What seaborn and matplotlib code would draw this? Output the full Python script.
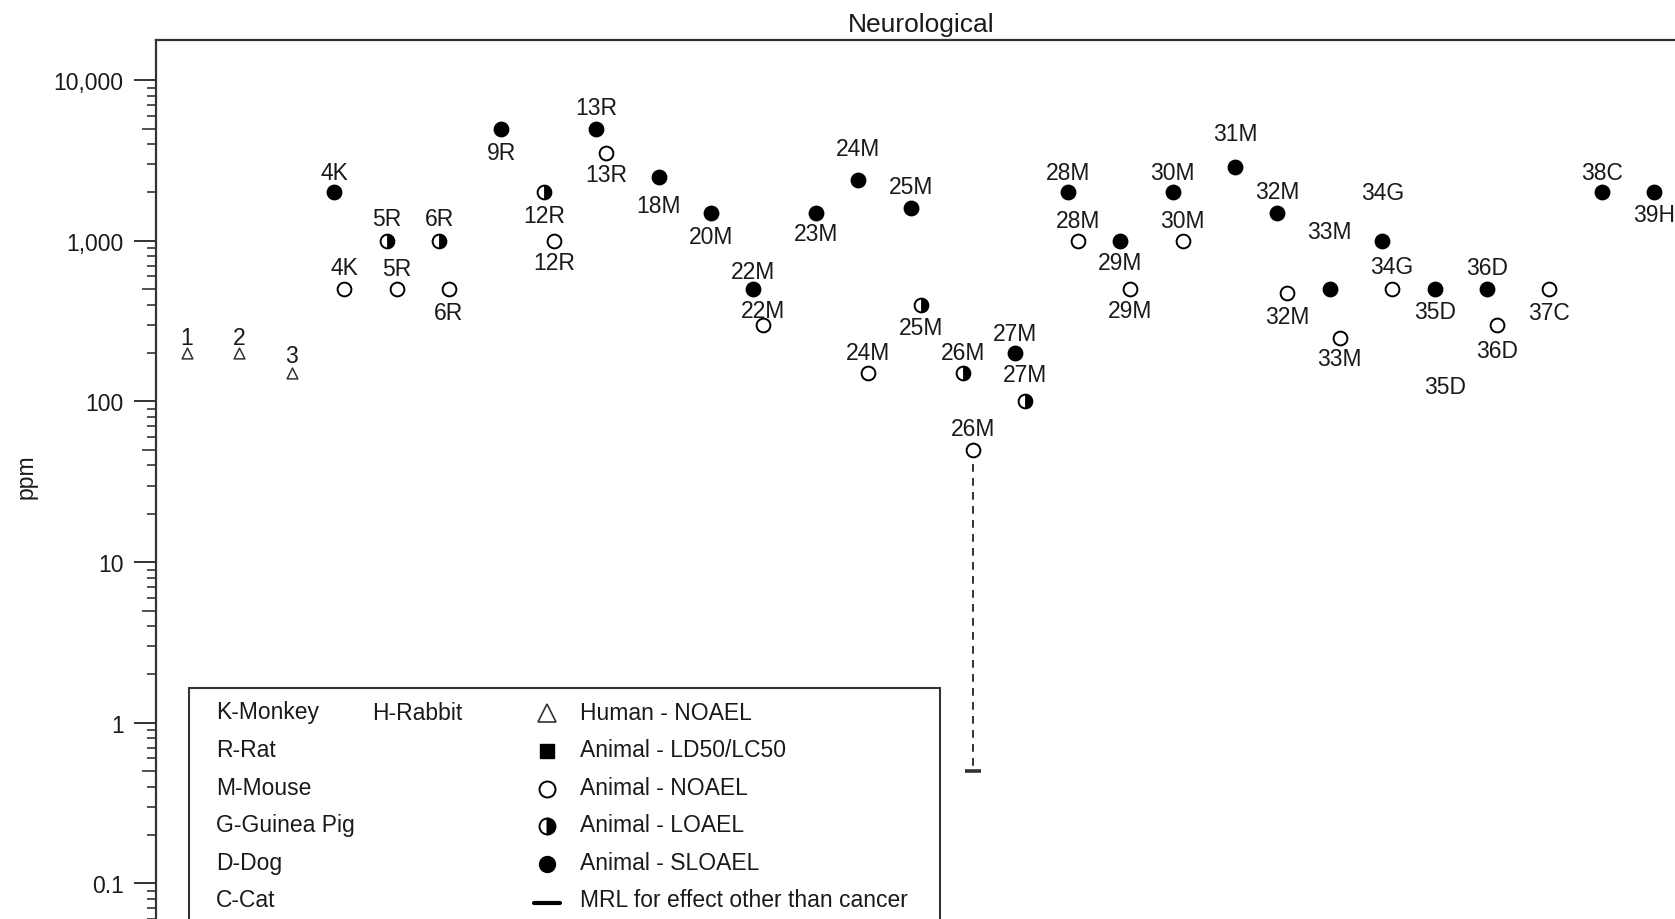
import numpy as np
import pandas as pd
import matplotlib
matplotlib.use("Agg")
import matplotlib.pyplot as plt
import matplotlib.ticker as mticker
from matplotlib.markers import MarkerStyle
from matplotlib.patches import Rectangle
from matplotlib.lines import Line2D
import seaborn as sns

# ---------------- data ----------------
studies = ['1', '2', '3', '4K', '5R', '6R', '9R', '12R', '13R', '18M', '20M', '22M',
           '23M', '24M', '25M', '26M', '27M', '28M', '29M', '30M', '31M', '32M',
           '33M', '34G', '35D', '36D', '37C', '38C', '39H']

pt_study = ['1', '2', '3', '4K', '4K', '5R', '5R', '6R', '6R', '9R', '12R', '12R',
            '13R', '13R', '18M', '20M', '22M', '22M', '23M', '24M', '24M', '25M', '25M',
            '26M', '26M', '27M', '27M', '28M', '28M', '29M', '29M', '30M', '30M', '31M',
            '32M', '32M', '33M', '33M', '34G', '34G', '35D', '35D', '36D', '36D', '37C',
            '38C', '39H']

H_N, A_N, A_L, A_S = 'Human - NOAEL', 'Animal - NOAEL', 'Animal - LOAEL', 'Animal - SLOAEL'
pt_type = [H_N, H_N, H_N, A_S, A_N, A_L, A_N, A_L, A_N, A_S, A_L, A_N,
           A_S, A_N, A_S, A_S, A_S, A_N, A_S, A_S, A_N, A_S, A_L,
           A_L, A_N, A_S, A_L, A_S, A_N, A_S, A_N, A_S, A_N, A_S,
           A_S, A_N, A_S, A_N, A_S, A_N, A_S, A_N, A_S, A_N, A_N,
           A_S, A_S]

pt_value = [200, 200, 150, 2000, 500, 1000, 500, 1000, 500, 5000, 2000, 1000,
            5000, 3500, 2500, 1500, 500, 300, 1500, 2400, 150, 1600, 400,
            150, 50, 200, 100, 2000, 1000, 1000, 500, 2000, 1000, 2900,
            1500, 475, 500, 250, 1000, 500, 500, 170, 500, 300, 500,
            2000, 2000]

# marker drawn for the point (35D NOAEL appears only as a label in the source)
pt_drawn = [True] * 41 + [False] + [True] * 5

# label placement (screen px, + = below marker, - = above)
label_dy = [-15, -15, -17, -19, -20, -21, -19, -21, 22, 22, 22, 20,
            -20, 20, 27, 22, -17, -13, 20, -29, -19, -20, 21,
            -19, -20, -18, -25, -19, -19, 20, 20, -19, -19, -31,
            -20, 22, -54, 20, -45, -21, 21, 21, -20, 24, 22,
            -19, 21]

mrl_study = '26M'
mrl_top = 50
mrl_value = 0.5

species_col1 = ['K-Monkey', 'R-Rat', 'M-Mouse', 'G-Guinea Pig', 'D-Dog', 'C-Cat']
species_col2 = ['H-Rabbit']
key_labels = ['Human - NOAEL', 'Animal - LD50/LC50', 'Animal - NOAEL', 'Animal - LOAEL',
              'Animal - SLOAEL', 'MRL for effect other than cancer']

# ---------------- positions ----------------
grp = {s: i for i, s in enumerate(studies)}
counts = pd.Series(pt_study).value_counts()
xs, seen = [], {}
for s in pt_study:
    k = seen.get(s, 0)
    off = -0.19 if (counts[s] == 2 and k == 0) else 0.0
    xs.append(grp[s] + off)
    seen[s] = k + 1

df = pd.DataFrame(dict(study=pt_study, type=pt_type, value=pt_value, x=xs,
                       drawn=pt_drawn, dy=label_dy))

# ---------------- style ----------------
sns.set_theme(style='white')
plt.rcParams['font.family'] = ['Liberation Sans', 'DejaVu Sans']
TXT = '#1a1a1a'
SP = '#333333'
FS = 16.5

W, H = 1675, 920
fig = plt.figure(figsize=(W / 100, H / 100), dpi=100)
L, R, T, B = 156, 1686, 40.6, 922
ax = fig.add_axes([L / W, (H - B) / H, (R - L) / W, (B - T) / H])
ax.set_yscale('log')
ax.set_xlim(-0.5916, 28.607)
ax.set_ylim(0.0584, 17890)

# MRL dashed line
mx = df[(df.study == mrl_study) & (df.type == A_N)].x.iloc[0]
ax.plot([mx, mx], [mrl_top, mrl_value], ls=(0, (4, 3.2)), color=SP, lw=1.4, zorder=1)
ax.plot([mx], [mrl_value], marker='_', ms=12, mew=2.6, color=SP, zorder=1)

d = df[df.drawn]
sns.scatterplot(data=d[d.type == H_N], x='x', y='value', marker='^', s=60,
                color='white', edgecolor=SP, linewidth=1.1, ax=ax, zorder=3)
sns.scatterplot(data=d[d.type == A_N], x='x', y='value', marker='o', s=98,
                color='white', edgecolor='black', linewidth=1.4, ax=ax, zorder=3)
sns.scatterplot(data=d[d.type == A_L], x='x', y='value', marker='o', s=98,
                color='white', edgecolor='black', linewidth=1.4, ax=ax, zorder=3)
sns.scatterplot(data=d[d.type == A_L], x='x', y='value',
                marker=MarkerStyle('o', fillstyle='right'), s=98,
                color='black', edgecolor='black', linewidth=0.6, ax=ax, zorder=4)
sns.scatterplot(data=d[d.type == A_S], x='x', y='value', marker='o', s=108,
                color='black', edgecolor='black', linewidth=1.0, ax=ax, zorder=3)

for _, r in df.iterrows():
    ax.annotate(r.study, (r.x, r.value), xytext=(0, -r.dy * 1.068 * 0.72),
                textcoords='offset points', ha='center', va='center',
                fontsize=FS, color=TXT, zorder=5)

# ---------------- axes styling ----------------
ax.set_xticks([])
ax.set_xlabel('')
for s in ['right', 'bottom']:
    ax.spines[s].set_visible(False)
for s in ['left', 'top']:
    ax.spines[s].set_color(SP)
    ax.spines[s].set_linewidth(1.6)

majors = [0.1, 1, 10, 100, 1000, 10000]
ax.yaxis.set_major_locator(mticker.FixedLocator(majors))
ax.yaxis.set_major_formatter(mticker.FuncFormatter(
    lambda v, p: f'{v:,.0f}' if v >= 1 else f'{v:g}'))
minors = [m * 10.0 ** e for e in range(-2, 5) for m in (2, 3, 4, 6, 7, 8, 9)]
ax.yaxis.set_minor_locator(mticker.FixedLocator(minors))
ax.tick_params(axis='y', which='major', left=True, direction='out', length=15.8,
               width=1.4, color=SP, labelsize=FS, labelcolor=TXT, pad=7.5)
ax.tick_params(axis='y', which='minor', left=True, direction='out', length=6.5,
               width=1.2, color=SP)

sec = ax.secondary_yaxis('left')
sec.set_yticks([5 * 10.0 ** e for e in range(-2, 5)])
sec.yaxis.set_minor_locator(mticker.NullLocator())
sec.tick_params(axis='y', which='major', direction='out', length=10, width=1.2,
                color=SP, labelleft=False)
sec.spines['left'].set_visible(False)

ax.set_ylabel('ppm', fontsize=FS, color=TXT)
ax.yaxis.set_label_coords((37.5 - L) / (R - L), (B - 477) / (B - T))
ax.set_title('Neurological', fontsize=19, color=TXT, pad=6)

# ---------------- legend box ----------------
def fx(px):
    return px / W


def fy(py):
    return 1 - py / H


box = Rectangle((fx(189), fy(935)), fx(940) - fx(189), fy(689) - fy(935),
                transform=fig.transFigure, facecolor='white', edgecolor=SP,
                lw=1.5, zorder=10)
fig.add_artist(box)

rows = [713, 750.5, 788.5, 826, 863.5, 901]
for yy, t in zip(rows, species_col1):
    fig.text(fx(216), fy(yy), t, ha='left', va='center', fontsize=FS, color=TXT, zorder=11)
for yy, t in zip(rows, species_col2):
    fig.text(fx(372), fy(yy), t, ha='left', va='center', fontsize=FS, color=TXT, zorder=11)

mk_x = fx(547)
key_styles = [
    dict(marker='^', ms=13, mfc='white', mec=SP, mew=1.2),
    dict(marker='s', ms=10, mfc='black', mec='black', mew=1.0),
    dict(marker='o', ms=11.5, mfc='white', mec='black', mew=1.4),
    dict(marker='o', ms=11.5, fillstyle='right', mfc='black', mfcalt='white', mec='black', mew=1.4),
    dict(marker='o', ms=11.5, mfc='black', mec='black', mew=1.0),
]
for yy, st in zip(rows[:5], key_styles):
    fig.add_artist(Line2D([mk_x], [fy(yy + 1)], transform=fig.transFigure, ls='none',
                          zorder=11, **st))
fig.add_artist(Line2D([fx(534), fx(560)], [fy(rows[5] + 3)] * 2, transform=fig.transFigure,
                      color='black', lw=3, zorder=11))
for yy, t in zip(rows, key_labels):
    fig.text(fx(580), fy(yy), t, ha='left', va='center', fontsize=FS, color=TXT, zorder=11)

fig.savefig('out.png', dpi=100)
